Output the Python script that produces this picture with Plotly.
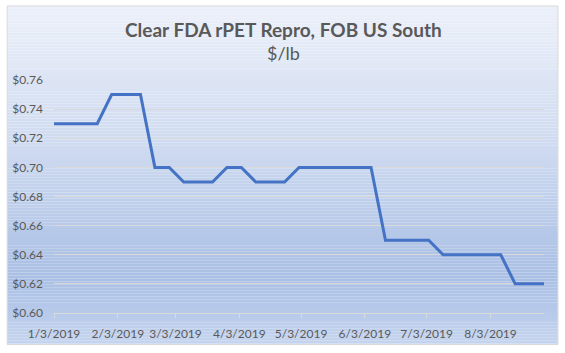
import plotly.graph_objects as go

dates = ["2019-01-03", "2019-01-10", "2019-01-17", "2019-01-24", "2019-01-31",
         "2019-02-07", "2019-02-14", "2019-02-21", "2019-02-28", "2019-03-07",
         "2019-03-14", "2019-03-21", "2019-03-28", "2019-04-04", "2019-04-11",
         "2019-04-18", "2019-04-25", "2019-05-02", "2019-05-09", "2019-05-16",
         "2019-05-23", "2019-05-30", "2019-06-06", "2019-06-13", "2019-06-20",
         "2019-06-27", "2019-07-04", "2019-07-11", "2019-07-18", "2019-07-25",
         "2019-08-01", "2019-08-08", "2019-08-15", "2019-08-22", "2019-08-29"]
prices = [0.73, 0.73, 0.73, 0.73, 0.75, 0.75, 0.75, 0.70, 0.70, 0.69,
          0.69, 0.69, 0.70, 0.70, 0.69, 0.69, 0.69, 0.70, 0.70, 0.70,
          0.70, 0.70, 0.70, 0.65, 0.65, 0.65, 0.65, 0.64, 0.64, 0.64,
          0.64, 0.64, 0.62, 0.62, 0.62]
tick_dates = ["2019-01-03", "2019-02-03", "2019-03-03", "2019-04-03",
              "2019-05-03", "2019-06-03", "2019-07-03", "2019-08-03"]
tick_labels = ["1/3/2019", "2/3/2019", "3/3/2019", "4/3/2019",
               "5/3/2019", "6/3/2019", "7/3/2019", "8/3/2019"]

W, H = 565, 353
ML, MR, MT, MB = 52, 21, 80, 37
pw, ph = W - ML - MR, H - MT - MB

def px_x(x):
    return (x - ML) / pw

def px_y(y):
    return (H - MB - y) / ph

# gradient background of chart box
stops = [(5, (0xEC, 0xF0, 0xF9)), (150, (0xCE, 0xDA, 0xF0)),
         (280, (0xA9, 0xBF, 0xE4)), (349, (0xC6, 0xD5, 0xEF))]

def col_at(y):
    for (y0, c0), (y1, c1) in zip(stops[:-1], stops[1:]):
        if y0 <= y <= y1:
            t = (y - y0) / (y1 - y0)
            return "rgb(%d,%d,%d)" % tuple(round(a + (b - a) * t) for a, b in zip(c0, c1))
    return "rgb(%d,%d,%d)" % stops[-1][1]

shapes = []
y = 5
step = 3
while y < 348:
    y2 = min(y + step, 348)
    shapes.append(dict(type="rect", xref="paper", yref="paper",
                       x0=px_x(5), x1=px_x(558), y0=px_y(y2), y1=px_y(y),
                       fillcolor=col_at((y + y2) / 2), line=dict(width=0),
                       layer="below"))
    y = y2
shapes.append(dict(type="rect", xref="paper", yref="paper",
                   x0=px_x(5), x1=px_x(558), y0=px_y(348), y1=px_y(5),
                   fillcolor="rgba(0,0,0,0)", line=dict(color="#d9d9d9", width=1),
                   layer="below"))

fig = go.Figure()
fig.add_trace(go.Scatter(x=dates, y=prices, mode="lines",
                         line=dict(color="#4472C4", width=3),
                         hoverinfo="skip", showlegend=False))

font_family = "Lato, 'Open Sans', sans-serif"
fig.update_layout(
    width=W, height=H,
    margin=dict(l=ML, r=MR, t=MT, b=MB),
    paper_bgcolor="white",
    plot_bgcolor="rgba(0,0,0,0)",
    shapes=shapes,
    font=dict(family=font_family, color="#595959", size=12),
    annotations=[
        dict(text="<b>Clear FDA rPET Repro, FOB US South</b>", xref="paper", yref="paper",
             x=px_x(282), y=px_y(29), showarrow=False, xanchor="center", yanchor="middle",
             font=dict(size=19, color="#595959", family=font_family)),
        dict(text="$/lb", xref="paper", yref="paper",
             x=px_x(282), y=px_y(53), showarrow=False, xanchor="center", yanchor="middle",
             font=dict(size=18, color="#595959", family=font_family)),
    ],
)
fig.update_xaxes(
    type="date", range=["2019-01-03", "2019-08-29"],
    tickvals=tick_dates, ticktext=tick_labels,
    showgrid=False, showline=True, linecolor="#d9d9d9", linewidth=1,
    ticks="outside", ticklen=4, tickcolor="#d9d9d9", ticklabelstandoff=6,
    tickfont=dict(size=12, color="#595959"), zeroline=False,
)
fig.update_yaxes(
    range=[0.60, 0.76], dtick=0.02, tick0=0.60, tickformat="$.2f",
    showgrid=True, gridcolor="#d9d9d9", gridwidth=1,
    showline=False, zeroline=False, ticks="", ticklabelstandoff=10,
    tickfont=dict(size=12, color="#595959"),
)
fig.write_html("out.html")
